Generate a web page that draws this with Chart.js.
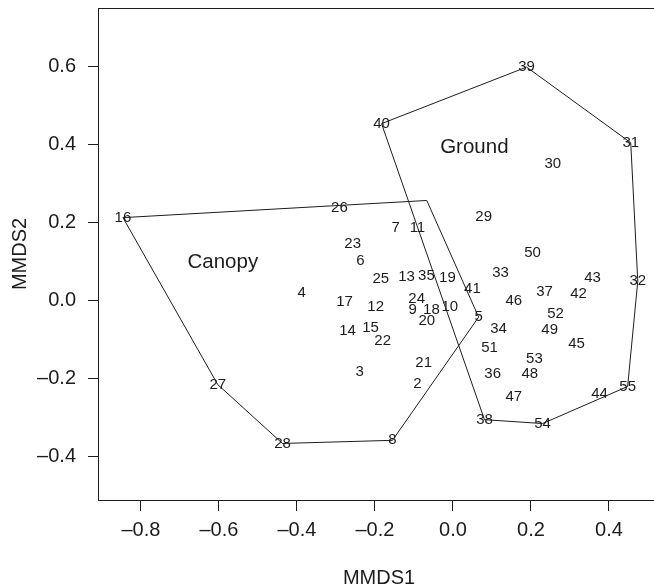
<!DOCTYPE html>
<html>
<head>
<meta charset="utf-8">
<script src="https://cdn.jsdelivr.net/npm/chart.js@4"></script>
<style>
  html, body { margin: 0; padding: 0; background: #fff; overflow: hidden; }
  #wrap { width: 660px; height: 588px; }
</style>
</head>
<body>
<div id="wrap"><canvas id="mmds"></canvas></div>
<script>
// ── DATA ──
const pointIds = [
  1, 2, 3, 4, 5, 6, 7, 8, 9, 10, 11, 12, 13, 14, 15, 16, 17, 18, 19, 20,
  21, 22, 23, 24, 25, 26, 27, 28, 29, 30, 31, 32, 33, 34, 35, 36, 37, 38, 39, 40,
  41, 42, 43, 44, 45, 46, 47, 48, 49, 50, 51, 52, 53, 54, 55
];
const mmds1 = [
  -0.067, -0.091, -0.239, -0.388, 0.066, -0.237, -0.147, -0.155, -0.103, -0.008,
  -0.091, -0.198, -0.119, -0.270, -0.211, -0.846, -0.278, -0.055, -0.014, -0.067,
  -0.075, -0.180, -0.257, -0.093, -0.185, -0.291, -0.603, -0.437, 0.079, 0.256,
  0.456, 0.474, 0.122, 0.117, -0.068, 0.102, 0.235, 0.081, 0.189, -0.183,
  0.050, 0.322, 0.358, 0.376, 0.317, 0.156, 0.156, 0.197, 0.248, 0.204,
  0.094, 0.263, 0.209, 0.230, 0.448
];
const mmds2 = [
  0.257, -0.212, -0.182, 0.020, -0.042, 0.101, 0.188, -0.358, -0.024, -0.016,
  0.188, -0.016, 0.061, -0.077, -0.069, 0.213, -0.003, -0.024, 0.058, -0.052,
  -0.159, -0.103, 0.147, 0.004, 0.055, 0.237, -0.215, -0.366, 0.214, 0.352,
  0.405, 0.050, 0.071, -0.072, 0.063, -0.187, 0.022, -0.305, 0.599, 0.454,
  0.030, 0.017, 0.058, -0.240, -0.111, -0.001, -0.246, -0.187, -0.075, 0.122,
  -0.121, -0.034, -0.149, -0.315, -0.220
];
// convex hull vertices (point ids, in drawing order)
const canopyHull = [16, 1, 5, 8, 28, 27];
const groundHull = [40, 39, 31, 32, 55, 54, 38];
// label of point 1 is lost under the hull corner in the original
const hiddenLabels = [1];
const groupNames = ['Canopy', 'Ground'];
const groupX = [-0.590, 0.055];
const groupY = [0.099, 0.393];
const xTicks = [-0.8, -0.6, -0.4, -0.2, 0.0, 0.2, 0.4];
const yTicks = [-0.4, -0.2, 0.0, 0.2, 0.4, 0.6];

const INK = '#1c1c1c';
const FONT = "'Liberation Sans', Arial, sans-serif";

function hullData(ids) {
  const pts = ids.map(id => {
    const i = pointIds.indexOf(id);
    return { x: mmds1[i], y: mmds2[i] };
  });
  pts.push(pts[0]);
  return pts;
}

const fmt = v => (v < 0 ? '\u2013' : '') + Math.abs(v).toFixed(1);

// ── LABEL + BOX PLUGIN ──
const labelPlugin = {
  id: 'labels',
  afterDatasetsDraw(chart) {
    const { ctx, chartArea: a, scales: { x, y } } = chart;
    ctx.save();
    ctx.strokeStyle = INK;
    ctx.lineWidth = 1;
    ctx.strokeRect(a.left + 0.5, a.top + 0.5, a.right - a.left, a.bottom - a.top);
    ctx.fillStyle = INK;
    ctx.textAlign = 'center';
    ctx.textBaseline = 'middle';
    ctx.font = '15px ' + FONT;
    pointIds.forEach((id, i) => {
      if (hiddenLabels.includes(id)) return;
      ctx.fillText(String(id), x.getPixelForValue(mmds1[i]), y.getPixelForValue(mmds2[i]));
    });
    ctx.font = '20.5px ' + FONT;
    groupNames.forEach((g, i) => {
      ctx.fillText(g, x.getPixelForValue(groupX[i]), y.getPixelForValue(groupY[i]));
    });
    ctx.restore();
  }
};

const hullStyle = {
  showLine: true, pointRadius: 0, borderColor: INK, borderWidth: 1,
  tension: 0, fill: false
};

new Chart(document.getElementById('mmds'), {
  type: 'scatter',
  data: {
    datasets: [
      { label: 'Canopy', data: hullData(canopyHull), ...hullStyle },
      { label: 'Ground', data: hullData(groundHull), ...hullStyle }
    ]
  },
  options: {
    responsive: true,
    maintainAspectRatio: false,
    animation: false,
    layout: { padding: { top: 8, right: 0, left: 0, bottom: 0 } },
    plugins: { legend: { display: false }, tooltip: { enabled: false } },
    scales: {
      x: {
        type: 'linear', min: -0.910, max: 0.531,
        afterFit: s => { s.height = 88; s.paddingLeft = 0; s.paddingRight = 0; },
        afterBuildTicks: s => { s.ticks = xTicks.map(v => ({ value: v })); },
        grid: { display: true, drawOnChartArea: false, drawTicks: true, tickLength: 11, color: INK },
        border: { display: true, color: INK, width: 1 },
        ticks: { color: INK, padding: 7, maxRotation: 0, font: { family: FONT, size: 20 }, callback: v => fmt(v) },
        title: { display: true, text: 'MMDS1', color: INK, padding: { top: 0, bottom: -2 }, font: { family: FONT, size: 20 } }
      },
      y: {
        type: 'linear', min: -0.511, max: 0.7505,
        afterFit: s => { s.width = 98; s.paddingTop = 0; s.paddingBottom = 0; },
        afterBuildTicks: s => { s.ticks = yTicks.map(v => ({ value: v })); },
        grid: { display: true, drawOnChartArea: false, drawTicks: true, tickLength: 10, color: INK },
        border: { display: true, color: INK, width: 1 },
        ticks: { color: INK, padding: 12, font: { family: FONT, size: 20 }, callback: v => fmt(v) },
        title: { display: true, text: 'MMDS2', color: INK, padding: { top: 8, bottom: 0 }, font: { family: FONT, size: 20 } }
      }
    }
  },
  plugins: [labelPlugin]
});
</script>
</body>
</html>
